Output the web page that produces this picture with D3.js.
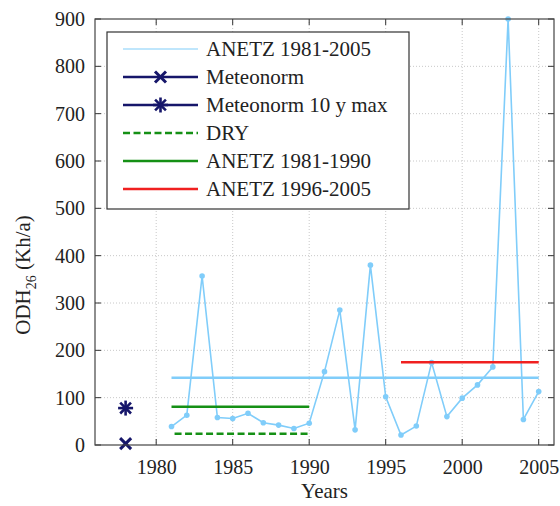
<!DOCTYPE html>
<html><head><meta charset="utf-8">
<script src="https://cdn.jsdelivr.net/npm/d3@7"></script>
<style>body{margin:0;background:#fff}svg{display:block}text{font-family:"Liberation Serif","Times New Roman",serif;fill:#222}</style>
</head><body><svg id="c" width="560" height="506"></svg>
<script>
const years = [1981,1982,1983,1984,1985,1986,1987,1988,1989,1990,1991,1992,1993,1994,1995,1996,1997,1998,1999,2000,2001,2002,2003,2004,2005];
const anetz = [39,63,357,58,56,67,47,42,35,46,155,285,32,380,102,21,40,174,60,99,127,165,900,54,113];
const meanAll = {x0:1981, x1:2005, v:142};
const mean8190 = {x0:1981, x1:1990, v:81};
const mean9605 = {x0:1996, x1:2005, v:175};
const dry = {x0:1981.2, x1:1990, v:24};
const meteonorm = {x:1978, v:3};
const meteonorm10 = {x:1978, v:78};
const xTicks = [1980,1985,1990,1995,2000,2005];
const yTicks = [0,100,200,300,400,500,600,700,800,900];
const legendLabels = ["ANETZ 1981-2005","Meteonorm","Meteonorm 10 y max","DRY","ANETZ 1981-1990","ANETZ 1996-2005"];

const L=95,R=554,T=19,B=445;
const FF='"Liberation Serif","Times New Roman",serif';
const svg=d3.select("#c");
const x=d3.scaleLinear().domain([1976,2006]).range([L,R]);
const y=d3.scaleLinear().domain([0,900]).range([B,T]);
const C={lb:"#80cdfa",navy:"#16166a",green:"#159015",red:"#f02020"};

// grid
const g=svg.append("g");
g.selectAll(".gx").data(xTicks).join("line").attr("x1",d=>x(d)).attr("x2",d=>x(d)).attr("y1",T).attr("y2",B)
 .attr("stroke","#c8c8c8").attr("stroke-dasharray","1,2").attr("stroke-width",1);
g.selectAll(".gy").data(yTicks.filter(d=>d>0&&d<900)).join("line").attr("y1",d=>y(d)).attr("y2",d=>y(d)).attr("x1",L).attr("x2",R)
 .attr("stroke","#c8c8c8").attr("stroke-dasharray","1,2").attr("stroke-width",1);

// axes
const ax=d3.axisBottom(x).tickValues(xTicks).tickSize(0).tickPadding(15).tickFormat(d3.format("d"));
const axG=svg.append("g").attr("transform",`translate(0,${B})`).call(ax).attr("font-family",FF);
axG.select(".domain").remove();
axG.selectAll("text").attr("font-size",20).attr("fill","#222").style("font-family",FF);
const ay=d3.axisLeft(y).tickValues(yTicks).tickSize(0).tickPadding(10);
const ayG=svg.append("g").attr("transform",`translate(${L},0)`).call(ay).attr("font-family",FF);
ayG.select(".domain").remove();
ayG.selectAll("text").attr("font-size",20).attr("fill","#222").style("font-family",FF);

// inward ticks on all sides
const tk=svg.append("g").attr("stroke","#333").attr("stroke-width",1);
xTicks.forEach(d=>{tk.append("line").attr("x1",x(d)).attr("x2",x(d)).attr("y1",B).attr("y2",B-6);
 tk.append("line").attr("x1",x(d)).attr("x2",x(d)).attr("y1",T).attr("y2",T+6);});
yTicks.forEach(d=>{tk.append("line").attr("y1",y(d)).attr("y2",y(d)).attr("x1",L).attr("x2",L+6);
 tk.append("line").attr("y1",y(d)).attr("y2",y(d)).attr("x1",R).attr("x2",R-6);});

// data
const pts=years.map((d,i)=>[d,anetz[i]]);
svg.append("path").datum(pts).attr("d",d3.line().x(d=>x(d[0])).y(d=>y(d[1]))).attr("fill","none").attr("stroke",C.lb).attr("stroke-width",1.6);
svg.selectAll(".pt").data(pts).join("circle").attr("cx",d=>x(d[0])).attr("cy",d=>y(d[1])).attr("r",2.8).attr("fill",C.lb);
function hl(o,col,w,dash){svg.append("line").attr("x1",x(o.x0)).attr("x2",x(o.x1)).attr("y1",y(o.v)).attr("y2",y(o.v))
 .attr("stroke",col).attr("stroke-width",w).attr("stroke-dasharray",dash||null);}
hl(meanAll,C.lb,2.5);
hl(mean8190,C.green,2.5);
hl(dry,C.green,2.5,"7,3.5");
hl(mean9605,C.red,2.5);

function cross(p0,px,py,s){const p=p0.append("g").attr("stroke",C.navy).attr("stroke-width",3);
 p.append("line").attr("x1",px-s).attr("x2",px+s).attr("y1",py-s).attr("y2",py+s);
 p.append("line").attr("x1",px-s).attr("x2",px+s).attr("y1",py+s).attr("y2",py-s);}
function star(p0,px,py,s){const p=p0.append("g").attr("stroke",C.navy).attr("stroke-width",2.6);
 const d=s*0.72;
 p.append("line").attr("x1",px-d).attr("x2",px+d).attr("y1",py-d).attr("y2",py+d);
 p.append("line").attr("x1",px-d).attr("x2",px+d).attr("y1",py+d).attr("y2",py-d);
 p.append("line").attr("x1",px).attr("x2",px).attr("y1",py-s).attr("y2",py+s);
 p.append("line").attr("x1",px-s).attr("x2",px+s).attr("y1",py).attr("y2",py);}
cross(svg,x(meteonorm.x),y(meteonorm.v),5.5);
star(svg,x(meteonorm10.x),y(meteonorm10.v),7.5);

// frame
svg.append("rect").attr("x",L).attr("y",T).attr("width",R-L).attr("height",B-T).attr("fill","none").attr("stroke","#444").attr("stroke-width",1.2);

// legend
const lg=svg.append("g");
lg.append("rect").attr("x",107).attr("y",32).attr("width",302).attr("height",177).attr("fill","#fff").attr("stroke","#333").attr("stroke-width",1.2);
const ly=i=>49+i*28;
const lx0=123,lx1=198;
const styles=[{c:C.lb,w:1.2},{c:C.navy,w:2.5,m:"x"},{c:C.navy,w:2.5,m:"*"},{c:C.green,w:2.5,d:"7,3.5"},{c:C.green,w:2.5},{c:C.red,w:2.5}];
legendLabels.forEach((t,i)=>{const s=styles[i];
 lg.append("line").attr("x1",lx0).attr("x2",lx1).attr("y1",ly(i)).attr("y2",ly(i)).attr("stroke",s.c).attr("stroke-width",s.w).attr("stroke-dasharray",s.d||null);
 if(s.m==="x")cross(lg,(lx0+lx1)/2,ly(i),5.5);
 if(s.m==="*")star(lg,(lx0+lx1)/2,ly(i),7.5);
 lg.append("text").attr("x",206).attr("y",ly(i)+7).attr("font-size",21).style("font-family",FF).text(t);
});

// labels
svg.append("text").attr("x",(L+R)/2).attr("y",498).attr("text-anchor","middle").attr("font-size",21).style("font-family",FF).text("Years");
const yl=svg.append("text").attr("transform","translate(30,275) rotate(-90)").attr("text-anchor","middle").attr("font-size",21).style("font-family",FF);
yl.append("tspan").text("ODH");
yl.append("tspan").attr("font-size",14).attr("dy",6).text("26");
yl.append("tspan").attr("dy",-6).text(" (Kh/a)");
</script></body></html>
